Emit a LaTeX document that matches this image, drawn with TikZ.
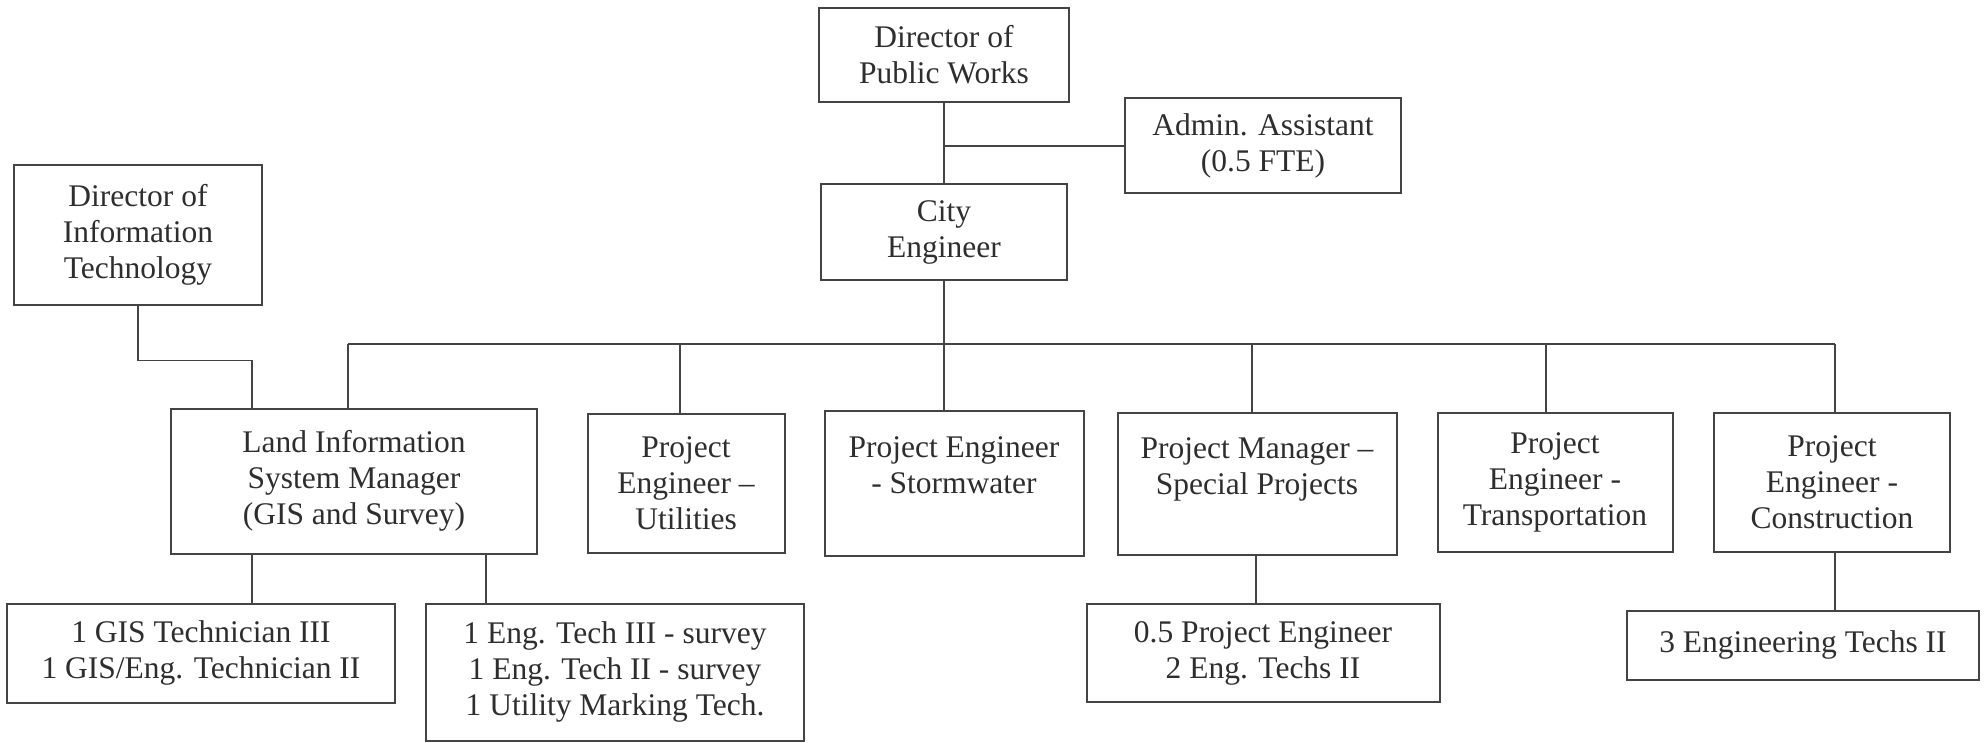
\documentclass[tikz,border=0pt]{standalone}
\usepackage{fontspec}
\setmainfont{Liberation Serif}
\usepackage{tikz}
\usetikzlibrary{calc}
\definecolor{orgInk}{HTML}{2E2E2E}
\definecolor{orgLine}{HTML}{444444}

\begin{document}
\begin{tikzpicture}[x=0.5pt, y=-0.5pt,
          post/.style={rectangle, draw=orgLine, line width=1pt, inner sep=0pt,
                       text=orgInk, font=\fontsize{15.75}{18}\selectfont},
          link/.style={draw=orgLine, line width=0.75pt},
          every node/.style={align=center}]
        \useasboundingbox (0,0) rectangle (1986,743);
        % top of the chart
        \node[post, minimum width=125pt, minimum height=47pt]   (dpw)  at (944,55)   {Director of\\Public Works};
        \node[post, minimum width=138pt, minimum height=47.5pt] (adm)  at (1263,146) {Admin. Assistant\\(0.5 FTE)};
        \node[post, minimum width=123pt, minimum height=48pt]   (ce)   at (944,232)  {City\\Engineer};
        \node[post, minimum width=124pt, minimum height=70pt]   (doit) at (138,235)  {Director of\\Information\\Technology};
        % second row
        \node[post, minimum width=183pt, minimum height=72.5pt] (lis)  at (354,481)  {Land Information\\System Manager\\(GIS and Survey)};
        \node[post, minimum width=98.5pt, minimum height=69.5pt] (utl) at (686,483)  {Project\\Engineer --\\Utilities};
        \node[post, minimum width=129.5pt, minimum height=72.5pt] (stw) at (954,483) {Project Engineer\\- Stormwater\\~};
        \node[post, minimum width=139.5pt, minimum height=71pt] (spe)  at (1257,484) {Project Manager --\\Special Projects\\~};
        \node[post, minimum width=117.5pt, minimum height=69.5pt] (trn) at (1555,482) {Project\\Engineer -\\Transportation};
        \node[post, minimum width=118pt, minimum height=69.5pt] (con)  at (1832,482) {Project\\Engineer -\\Construction};
        % staff boxes
        \node[post, minimum width=194pt, minimum height=49.5pt] (gis)  at (201,653)  {1 GIS Technician III\\1 GIS/Eng. Technician II};
        \node[post, minimum width=189pt, minimum height=68.5pt] (eng)  at (615,672)  {1 Eng. Tech III - survey\\1 Eng. Tech II - survey\\1 Utility Marking Tech.};
        \node[post, minimum width=176.5pt, minimum height=49pt] (pe5)  at (1263,653) {0.5 Project Engineer\\2 Eng. Techs II};
        \node[post, minimum width=176pt, minimum height=34.5pt] (ets)  at (1803,645) {3 Engineering Techs II};

        \coordinate (bus)  at (944,344);
        \coordinate (lisl) at ($(lis.south west)+(82,0)$);
        \coordinate (lisr) at ($(lis.south west)+(316,0)$);
        \coordinate (lisi) at ($(lis.north west)+(82,0)$);

        \draw[link] (dpw) -- (ce);
        \draw[link] (dpw.south |- adm.west) -- (adm.west);
        \draw[link] (ce.south) -- (ce.south |- bus);
        \draw[link] ([xshift=-3pt]lis.north |- bus) -- ([xshift=1.5pt]con.north |- bus);
        \foreach \n/\s in {lis/-3pt, utl/-3pt, spe/-2.5pt, trn/-4.5pt, con/1.5pt}
          \draw[link] ([xshift=\s]\n.north |- bus) -- ([xshift=\s]\n.north);
        \draw[link] (bus) -- (bus |- stw.north);
        \draw[link] (doit.south) |- ($(lisi)+(0,-47)$) -- (lisi);
        \draw[link] (lisl) -- (lisl |- gis.north);
        \draw[link] (lisr) -- (lisr |- eng.north);
        \draw[link] ([xshift=-0.5pt]spe.south) -- ([xshift=-0.5pt]spe.south |- pe5.north);
        \draw[link] ([xshift=1.5pt]con.south) -- ([xshift=1.5pt]con.south |- ets.north);
      \end{tikzpicture}
\end{document}
